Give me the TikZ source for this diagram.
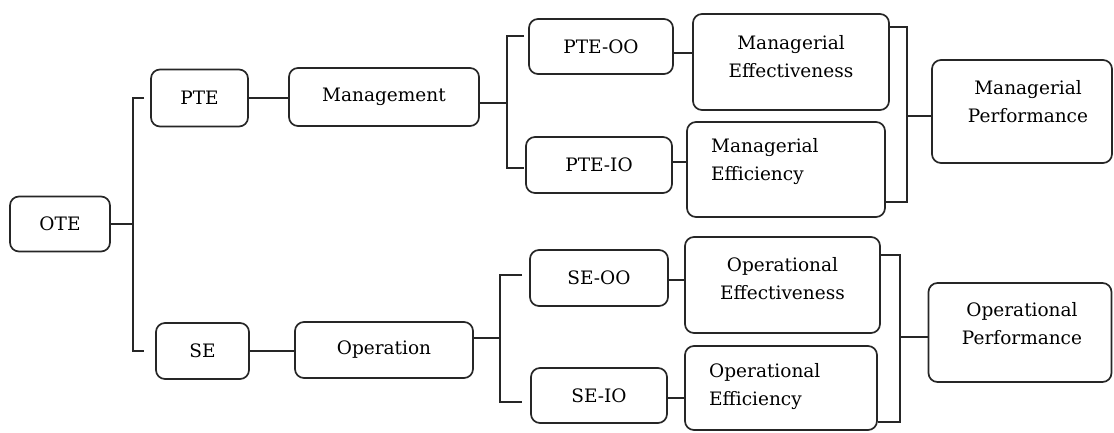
\documentclass[tikz,border=0pt]{standalone}
\usepackage{fontspec}
\setmainfont{DejaVu Serif}
\begin{document}
\begin{tikzpicture}[x=1pt,y=-1pt,
  box/.style={draw=black!85, line width=1.7pt, rounded corners=9pt, inner sep=0pt, font=\fontsize{18.5}{28}\selectfont},
  txt/.style={inner sep=0pt, font=\fontsize{18.5}{28}\selectfont},
  conn/.style={draw=black!85, line width=1.7pt}]
\useasboundingbox (0,0) rectangle (1114,432);
% level boxes
\node[box, minimum width=100pt, minimum height=55pt] (ote) at (60,224) {OTE};
\node[box, minimum width=97pt, minimum height=57pt] (pte) at (199.5,98) {PTE};
\node[box, minimum width=93pt, minimum height=56pt] (se) at (202.5,351) {SE};
\node[box, minimum width=190pt, minimum height=58pt] (mgmt) at (384,97) {Management};
\node[box, minimum width=178pt, minimum height=56pt] (oper) at (384,350) {Operation};
\node[box, minimum width=144pt, minimum height=55pt] (pteoo) at (601,46.5) {PTE-OO};
\node[box, minimum width=146pt, minimum height=56pt] (pteio) at (599,165) {PTE-IO};
\node[box, minimum width=138pt, minimum height=56pt] (seoo) at (599,278) {SE-OO};
\node[box, minimum width=136pt, minimum height=55pt] (seio) at (599,395.5) {SE-IO};
% two-line boxes
\node[box, minimum width=196pt, minimum height=96pt] (meff) at (791,62) {};
\node[txt, align=center] (meff-t) at (791,57) {Managerial\\Effectiveness};
\node[box, minimum width=198pt, minimum height=95pt] (meffic) at (786,169.5) {};
\node[txt, align=left, anchor=west] (meffic-t) at (711,162) {Managerial\\Efficiency};
\node[box, minimum width=195pt, minimum height=96pt] (oeff) at (782.5,285) {};
\node[txt, align=center] (oeff-t) at (782.5,279) {Operational\\Effectiveness};
\node[box, minimum width=192pt, minimum height=84pt] (oeffic) at (781,388) {};
\node[txt, align=left, anchor=west] (oeffic-t) at (709,387) {Operational\\Efficiency};
\node[box, minimum width=180pt, minimum height=103pt] (mperf) at (1022,111.5) {};
\node[txt, align=center] (mperf-t) at (1028,102) {Managerial\\Performance};
\node[box, minimum width=183pt, minimum height=99pt] (operf) at (1020,332.5) {};
\node[txt, align=center] (operf-t) at (1022,324) {Operational\\Performance};
% bracket coordinates
\coordinate (j1) at (133,224);
\coordinate (j2) at (507,103);
\coordinate (j3) at (500,338);
\coordinate (j4) at (907,116);
\coordinate (j5) at (900,337);
% OTE bracket
\draw[conn] (ote.east) -- (j1);
\draw[conn] ([xshift=-6pt]pte.west) -| (j1) |- ([xshift=-11pt]se.west);
% straight links
\draw[conn] (pte.east) -- (pte.east -| mgmt.west);
\draw[conn] (se.east) -- (se.east -| oper.west);
% Management bracket
\draw[conn] (mgmt.east |- j2) -- (j2);
\draw[conn] ([xshift=-4pt,yshift=10.5pt]pteoo.west) -| (j2) |- ([xshift=-1pt,yshift=-3pt]pteio.west);
% Operation bracket
\draw[conn] (oper.east |- j3) -- (j3);
\draw[conn] ([xshift=-7pt,yshift=3pt]seoo.west) -| (j3) |- ([xshift=-8pt,yshift=-6.5pt]seio.west);
% links to effectiveness / efficiency
\draw[conn] ([yshift=-6.5pt]pteoo.east) -- ([yshift=-6.5pt]pteoo.east -| meff.west);
\draw[conn] ([yshift=3pt]pteio.east) -- ([yshift=3pt]pteio.east -| meffic.west);
\draw[conn] ([yshift=-2pt]seoo.east) -- ([yshift=-2pt]seoo.east -| oeff.west);
\draw[conn] ([yshift=-2.5pt]seio.east) -- ([yshift=-2.5pt]seio.east -| oeffic.west);
% Managerial performance bracket
\draw[conn] ([yshift=35pt]meff.east) -| (j4) |- ([yshift=-32.5pt]meffic.east);
\draw[conn] (j4) -- (j4 -| mperf.west);
% Operational performance bracket
\draw[conn] ([yshift=30pt]oeff.east) -| (j5) |- ([yshift=-34pt]oeffic.east);
\draw[conn] (j5) -- (j5 -| operf.west);
\end{tikzpicture}
\end{document}
